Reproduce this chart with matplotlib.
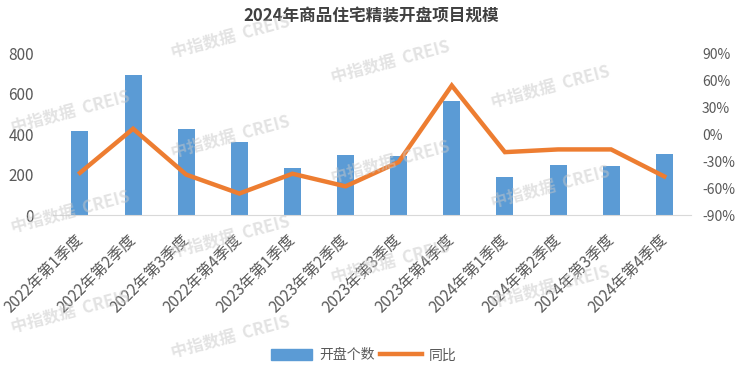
import numpy as np
import matplotlib
matplotlib.use('Agg')
import matplotlib.pyplot as plt
import matplotlib.transforms as mtransforms
from matplotlib.ticker import FuncFormatter
from matplotlib.lines import Line2D
from matplotlib.patches import Patch

plt.rcParams['font.family'] = ['Noto Sans CJK SC', 'DejaVu Sans']
plt.rcParams['axes.unicode_minus'] = False

# data
quarters = ['2022年第1季度', '2022年第2季度', '2022年第3季度', '2022年第4季度',
            '2023年第1季度', '2023年第2季度', '2023年第3季度', '2023年第4季度',
            '2024年第1季度', '2024年第2季度', '2024年第3季度', '2024年第4季度']
counts = [415, 691, 425, 360, 232, 296, 291, 563, 188, 247, 242, 301]
yoy = [-43, 6, -45, -66, -44, -58, -31, 54, -20, -17, -17, -47]

left_ticks = [0, 200, 400, 600, 800]
right_ticks = [-90, -60, -30, 0, 30, 60, 90]

bar_color = '#5B9BD5'
line_color = '#ED7D31'
text_color = '#595959'

fig = plt.figure(figsize=(7.42, 3.69), dpi=100)
ax1 = fig.add_axes([0.072, 0.417, 0.859, 0.439])
ax2 = ax1.twinx()

x = np.arange(len(quarters))
ax1.bar(x, counts, width=0.32, color=bar_color, zorder=2)
ax2.plot(x, yoy, color=line_color, lw=3.2, solid_joinstyle='miter', zorder=3)

ax1.set_xlim(-0.5, len(quarters) - 0.5)
ax1.set_ylim(0, 800)
ax1.set_yticks(left_ticks)
ax2.set_ylim(-90, 90)
ax2.set_yticks(right_ticks)
ax2.yaxis.set_major_formatter(FuncFormatter(lambda v, p: f'{int(v)}%'))

ax1.set_xticks(x)
ax1.set_xticklabels(quarters, rotation=45, ha='right', va='center',
                    rotation_mode='anchor', fontsize=11, color=text_color)
offset = mtransforms.ScaledTranslation(7 / 100, 0, fig.dpi_scale_trans)
for lab in ax1.get_xticklabels():
    lab.set_transform(lab.get_transform() + offset)
ax1.tick_params(axis='x', length=0, pad=16)
ax1.tick_params(axis='y', length=0, labelsize=11, labelcolor=text_color, pad=14)
ax2.tick_params(axis='y', length=0, labelsize=10, labelcolor=text_color, pad=8)

for ax in (ax1, ax2):
    for s in ('top', 'left', 'right', 'bottom'):
        ax.spines[s].set_visible(False)
ax1.spines['bottom'].set_visible(True)
ax1.spines['bottom'].set_color('#d9d9d9')

fig.text(0.5, 0.955, '2024年商品住宅精装开盘项目规模', ha='center', va='center',
         fontsize=12, fontweight='bold', color='#404040')

handles = [Patch(color=bar_color), Line2D([], [], color=line_color, lw=3.2)]
fig.legend(handles, ['开盘个数', '同比'], loc='center', ncol=2,
           bbox_to_anchor=(0.49, 0.037), frameon=False, fontsize=10,
           handlelength=3.0, handleheight=0.8, columnspacing=0.4,
           handletextpad=0.5, labelcolor=text_color)

# watermarks (only the ones that sit fully inside the picture)
for i in range(5):
    for j in range(0, 4):
        px = 70 + 160 * i
        py = 12 + 25 * i + 100 * j
        if py < 25 or py > 350 or px > 700:
            continue
        fig.text(px / 742, 1 - py / 369, '中指数据  CREIS', ha='center', va='center',
                 rotation=15, fontsize=12, fontweight='bold', color='#c8c8c8',
                 alpha=0.5, zorder=10)

fig.savefig('out.png', dpi=100)
